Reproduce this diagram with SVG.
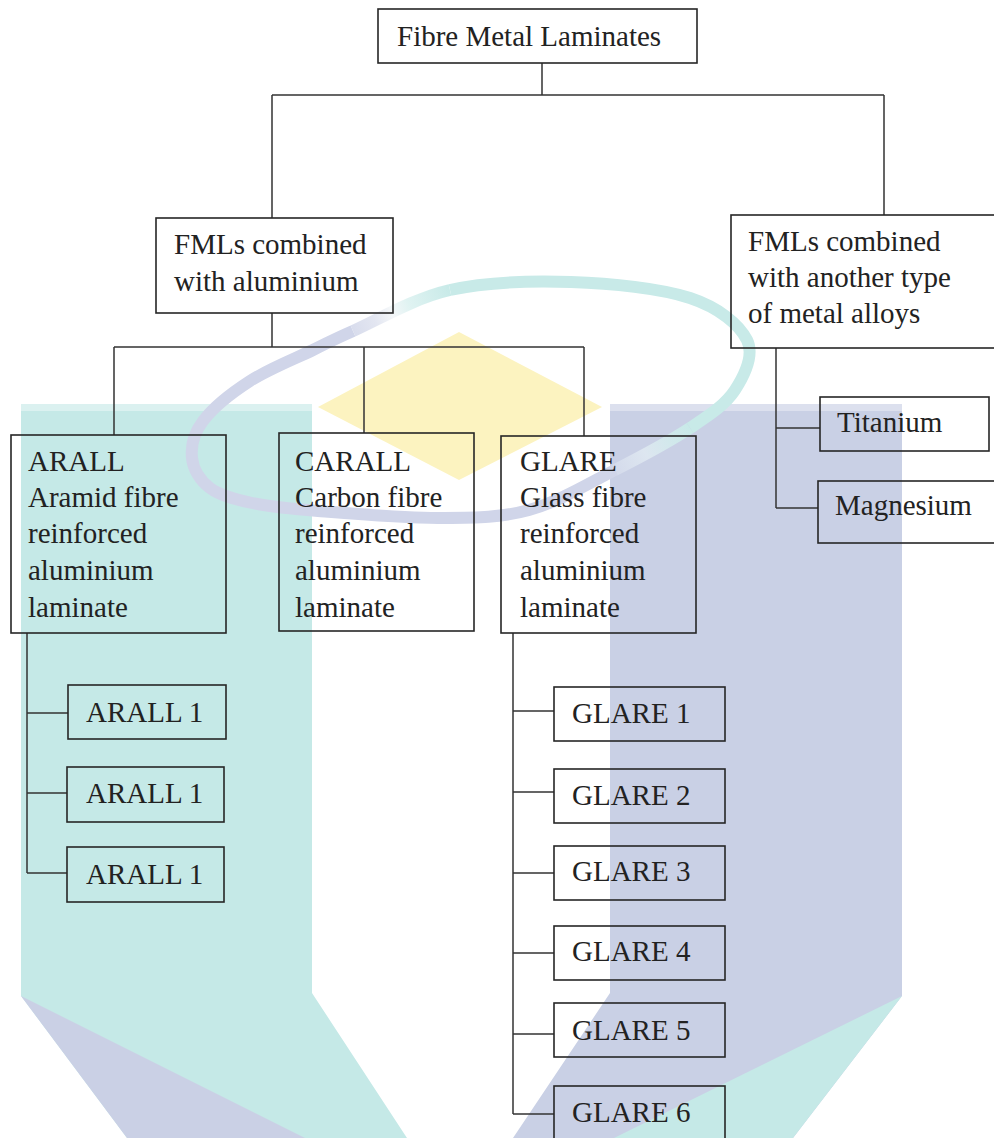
<svg xmlns="http://www.w3.org/2000/svg" width="994" height="1138" viewBox="0 0 994 1138">
<defs>
<style>
.box{fill:none;stroke:#262626;stroke-width:1.6}
.c{fill:none;stroke:#333;stroke-width:1.5}
.t{font-family:"Liberation Serif","Times New Roman",serif;font-size:29px;fill:#222}
.ring{fill:none;stroke-width:12;stroke-linecap:butt}
</style>
<linearGradient id="fadeUL" gradientUnits="userSpaceOnUse" x1="335" y1="338" x2="450" y2="290">
<stop offset="0" stop-color="#d0d5e9"/>
<stop offset="0.35" stop-color="#e3e6f1"/>
<stop offset="0.5" stop-color="#f4f7f9"/>
<stop offset="0.65" stop-color="#e0f3f2"/>
<stop offset="1" stop-color="#c8eae8"/>
</linearGradient>
<linearGradient id="fadeLR" gradientUnits="userSpaceOnUse" x1="690" y1="428" x2="600" y2="478">
<stop offset="0" stop-color="#c8eae8"/>
<stop offset="0.5" stop-color="#dde6f0"/>
<stop offset="1" stop-color="#d0d5e9"/>
</linearGradient>
</defs>
<rect width="994" height="1138" fill="#ffffff"/>
<g id="watermark">
<polygon points="459,332 602,407 459,480 318,407" fill="#fcf3c0"/>
<polygon points="21,404 312,404 312,993 407,1138 127,1138 21,996" fill="#c5e9e7"/>
<polygon points="21,996 305,1138 127,1138" fill="#cad0e5"/>
<polygon points="610,404 902,404 902,996 793,1138 513,1138 610,993" fill="#c9d0e5"/>
<polygon points="902,996 793,1138 614,1138" fill="#c5e9e7"/>
<rect x="21" y="404" width="291" height="7" fill="#dbf1f0"/>
<rect x="610" y="404" width="292" height="7" fill="#dce0ee"/>
<path class="ring" stroke="#d0d5e9" d="M615 470C588.2 483.7 558.2 502 529 510C499.8 518 475.2 517.8 440 518C404.8 518.2 349.3 513.5 318 511C286.7 508.5 270 506.8 252 503C234 499.2 220 495.5 210 488C200 480.5 193.2 469.2 192 458C190.8 446.8 193.3 433.8 203 421C212.7 408.2 231.7 392.8 250 381C268.3 369.2 295.8 358.3 313 350C330.2 341.7 330.2 341 353 331"/>
<path class="ring" stroke="url(#fadeUL)" d="M353 331C375.8 321 413.7 298.2 450 290"/>
<path class="ring" stroke="#c8eae8" d="M450 290C486.3 281.8 531 280.7 571 282C611 283.3 660.7 288.3 690 298C719.3 307.7 739.5 324.7 747 340C754.5 355.3 744.5 375.3 735 390C725.5 404.7 710 414.7 690 428"/>
<path class="ring" stroke="url(#fadeLR)" d="M690 428C670 441.3 641.8 456.3 615 470"/>
</g>
<g id="connectors">
<path class="c" d="M542 63V95M272 95H884M272 95V218M884 95V215"/>
<path class="c" d="M272 313V347M114 347H584M114 347V435M364 347V433M584 347V436"/>
<path class="c" d="M776 348V508M776 428H820M776 508H818"/>
<path class="c" d="M27 633V873M27 713H68M27 793H67M27 873H67"/>
<path class="c" d="M513 633V1114M513 711H554M513 792H554M513 873H554M513 953H554M513 1034H554M513 1114H554"/>
</g>
<g id="n-root"><rect class="box" x="378" y="9" width="319" height="54"/><text class="t" x="397" y="46">Fibre Metal Laminates</text></g>
<g id="n-aluminium"><rect class="box" x="156" y="218" width="237" height="95"/><text class="t"><tspan x="174" y="254">FMLs combined</tspan><tspan x="174" y="291">with aluminium</tspan></text></g>
<g id="n-other"><rect class="box" x="731" y="215" width="270" height="133"/><text class="t"><tspan x="748" y="251">FMLs combined</tspan><tspan x="748" y="287">with another type</tspan><tspan x="748" y="323">of metal alloys</tspan></text></g>
<g id="n-titanium"><rect class="box" x="820" y="397" width="169" height="54"/><text class="t" x="837" y="432">Titanium</text></g>
<g id="n-magnesium"><rect class="box" x="818" y="481" width="183" height="62"/><text class="t" x="835" y="515">Magnesium</text></g>
<g id="n-arall"><rect class="box" x="11" y="435" width="215" height="198"/><text class="t"><tspan x="28" y="471">ARALL</tspan><tspan x="28" y="507">Aramid fibre</tspan><tspan x="28" y="543">reinforced</tspan><tspan x="28" y="580">aluminium</tspan><tspan x="28" y="617">laminate</tspan></text></g>
<g id="n-carall"><rect class="box" x="279" y="433" width="195" height="198"/><text class="t"><tspan x="295" y="471">CARALL</tspan><tspan x="295" y="507">Carbon fibre</tspan><tspan x="295" y="543">reinforced</tspan><tspan x="295" y="580">aluminium</tspan><tspan x="295" y="617">laminate</tspan></text></g>
<g id="n-glare"><rect class="box" x="501" y="436" width="195" height="197"/><text class="t"><tspan x="520" y="471">GLARE</tspan><tspan x="520" y="507">Glass fibre</tspan><tspan x="520" y="543">reinforced</tspan><tspan x="520" y="580">aluminium</tspan><tspan x="520" y="617">laminate</tspan></text></g>
<g id="n-arall1a"><rect class="box" x="68" y="685" width="158" height="54"/><text class="t" x="86" y="722">ARALL 1</text></g>
<g id="n-arall1b"><rect class="box" x="67" y="767" width="157" height="55"/><text class="t" x="86" y="803">ARALL 1</text></g>
<g id="n-arall1c"><rect class="box" x="67" y="847" width="157" height="55"/><text class="t" x="86" y="884">ARALL 1</text></g>
<g id="n-glare1"><rect class="box" x="554" y="687" width="171" height="54"/><text class="t" x="572" y="723">GLARE 1</text></g>
<g id="n-glare2"><rect class="box" x="554" y="769" width="171" height="54"/><text class="t" x="572" y="805">GLARE 2</text></g>
<g id="n-glare3"><rect class="box" x="554" y="846" width="171" height="54"/><text class="t" x="572" y="881">GLARE 3</text></g>
<g id="n-glare4"><rect class="box" x="554" y="926" width="171" height="54"/><text class="t" x="572" y="961">GLARE 4</text></g>
<g id="n-glare5"><rect class="box" x="554" y="1003" width="171" height="54"/><text class="t" x="572" y="1040">GLARE 5</text></g>
<g id="n-glare6"><rect class="box" x="554" y="1086" width="171" height="60"/><text class="t" x="572" y="1122">GLARE 6</text></g>
</svg>
